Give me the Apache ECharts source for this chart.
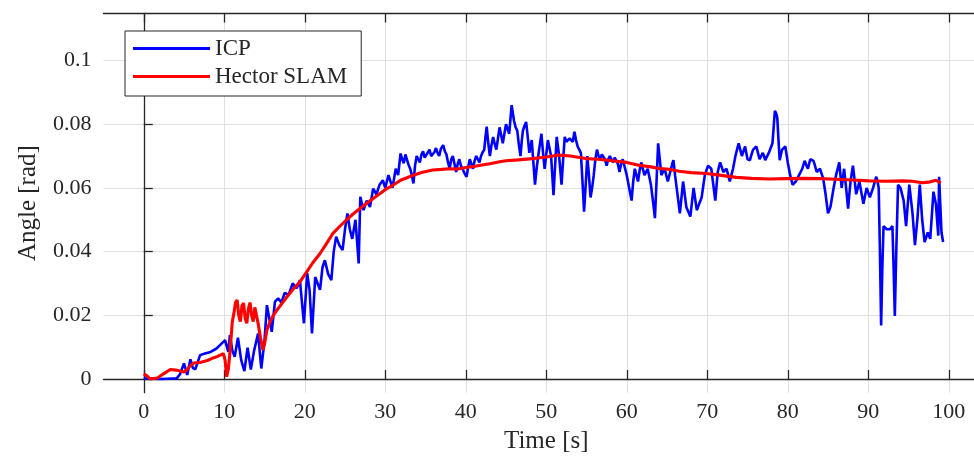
<!DOCTYPE html>
<html><head><meta charset="utf-8">
<script src="https://cdn.jsdelivr.net/npm/echarts@6/dist/echarts.min.js"></script>
<style>html,body{margin:0;padding:0;background:#fff;overflow:hidden}#c{width:974px;height:459px}</style>
</head><body><div id="c"></div>
<script>
const icpT = [0,1,2,3,4.1,4.5,5.0,5.4,5.8,6.1,6.4,7.0,7.6,8.3,9.0,9.5,10.1,10.5,10.7,11.0,11.3,11.7,12.1,12.5,12.9,13.3,13.7,14.2,14.6,15.0,15.3,15.9,16.3,16.7,17.1,17.5,18.0,18.5,19.0,19.4,19.9,20.3,20.6,20.9,21.3,21.6,21.9,22.2,22.5,22.9,23.3,23.6,23.9,24.3,24.7,25.0,25.3,25.6,25.9,26.3,26.7,26.9,27.3,27.7,28.1,28.5,28.9,29.3,29.7,30.0,30.4,30.9,31.3,31.6,
31.9,32.1,32.3,32.5,32.7,32.9,33.1,33.3,33.5,33.7,33.9,34.1,34.3,34.5,34.7,34.9,35.1,35.3,35.5,35.7,35.9,36.1,36.3,36.5,36.7,36.9,37.2,37.4,37.6,37.8,38.0,38.2,38.4,38.6,38.8,39.0,39.2,39.4,39.6,39.8,40.1,40.3,40.5,40.7,40.9,41.1,41.3,41.5,41.7,41.9,42.1,42.3,42.45,42.6,42.8,43.0,43.2,43.4,43.6,43.8,44.0,44.2,44.4,44.6,44.8,45.0,45.2,45.4,45.55,45.7,45.85,46.0,46.2,46.4,46.6,46.8,46.95,47.1,47.3,47.5,47.7,47.9,48.05,48.2,48.4,48.6,48.8,49.0,49.2,49.4,49.6,49.8,50.0,50.2,50.4,50.6,50.75,50.9,51.1,51.3,51.45,51.6,51.75,51.9,52.1,52.3,52.5,52.7,52.9,53.1,53.3,53.5,53.7,53.9,54.1,54.3,54.5,54.7,54.9,55.1,55.3,55.5,55.7,55.9,56.1,56.3,56.5,56.7,56.9,57.1,57.3,57.5,57.7,57.9,58.1,58.3,58.5,58.7,58.9,59.1,59.3,59.5,59.75,
60.0,60.15,60.3,60.45,60.6,60.8,61.0,61.2,61.4,61.6,61.8,62.0,62.2,62.4,62.6,62.8,63.0,63.25,63.5,63.7,63.9,64.1,64.3,64.5,64.7,64.9,65.1,65.3,65.5,65.65,65.8,66.0,66.2,66.4,66.6,66.8,67.0,67.2,67.4,67.65,67.9,68.1,68.3,68.5,68.7,69.0,69.3,69.5,69.7,69.9,70.1,70.3,70.5,70.75,71.0,71.15,71.3,71.45,71.6,71.8,72.0,72.2,72.4,72.6,72.8,73.0,73.2,73.35,73.5,73.7,73.9,74.1,74.3,74.5,74.7,74.85,75.0,75.15,75.3,75.5,75.7,75.9,76.1,76.3,76.5,76.7,76.9,77.05,77.2,77.35,77.5,77.65,77.8,77.95,78.1,78.25,78.4,78.55,78.7,78.85,79.0,79.15,79.3,79.5,79.7,79.85,80.0,80.15,80.3,80.45,80.6,80.8,81.0,81.2,81.4,81.6,81.8,81.95,82.1,82.3,82.5,82.65,82.8,83.0,83.2,83.4,83.6,83.8,84.0,84.2,84.4,84.55,84.7,84.85,85.0,85.15,85.3,85.5,85.7,85.85,86.0,86.2,86.4,86.55,86.7,86.85,87.0,87.25,87.5,87.65,87.8,87.95,88.1,88.3,88.5,88.7,88.9,89.15,89.4,89.6,89.8,90.0,90.2,90.4,90.6,90.8,91.0,91.15,91.3,91.45,91.6,91.75,91.9,92.3,92.7,93.0,93.15,93.3,93.5,93.7,94.0,94.4,94.7,95.1,95.5,95.8,96.1,96.4,96.7,97.0,97.4,97.7,98.1,98.4,98.7,98.8,99.1,99.3];
const icpV = [0.0002,0.0001,0.0000,0.0001,0.0002,0.0015,0.0049,0.0013,0.0062,0.0035,0.0030,0.0075,0.0080,0.0085,0.0095,0.0107,0.0122,0.0085,0.0138,0.0090,0.0070,0.0130,0.0060,0.0025,0.0098,0.0030,0.0088,0.0143,0.0033,0.0120,0.0232,0.0148,0.0243,0.0253,0.0240,0.0270,0.0265,0.0300,0.0285,0.0310,0.0175,0.0332,0.0280,0.0143,0.0320,0.0300,0.0280,0.0350,0.0373,0.0330,0.0310,0.0400,0.0447,0.0420,0.0405,0.0470,0.0520,0.0470,0.0440,0.0500,0.0363,0.0572,0.0530,0.0560,0.0540,0.0598,0.0580,0.0610,0.0624,0.0600,0.0640,0.0600,0.0660,0.0640,
0.0708,0.0690,0.0677,0.0705,0.0700,0.0672,0.0660,0.0640,0.0614,0.0670,0.0700,0.0690,0.0680,0.0705,0.0715,0.0695,0.0690,0.0712,0.0720,0.0700,0.0695,0.0712,0.0725,0.0710,0.0700,0.0722,0.0734,0.0715,0.0705,0.0680,0.0660,0.0690,0.0700,0.0675,0.0650,0.0675,0.0690,0.0670,0.0660,0.0648,0.0635,0.0665,0.0690,0.0675,0.0660,0.0685,0.0700,0.0690,0.0680,0.0700,0.0712,0.0720,0.0760,0.0792,0.0740,0.0700,0.0735,0.0760,0.0738,0.0720,0.0755,0.0790,0.0765,0.0740,0.0770,0.0800,0.0785,0.0770,0.0815,0.0860,0.0835,0.0810,0.0790,0.0780,0.0735,0.0700,0.0745,0.0780,0.0795,0.0807,0.0760,0.0710,0.0730,0.0750,0.0680,0.0610,0.0660,0.0700,0.0735,0.0770,0.0710,0.0660,0.0705,0.0750,0.0725,0.0700,0.0640,0.0577,0.0670,0.0760,0.0730,0.0700,0.0655,0.0610,0.0690,0.0760,0.0745,0.0740,0.0755,0.0760,0.0745,0.0776,0.0750,0.0730,0.0720,0.0710,0.0620,0.0525,0.0610,0.0700,0.0640,0.0570,0.0600,0.0640,0.0690,0.0720,0.0700,0.0690,0.0705,0.0710,0.0690,0.0670,0.0690,0.0700,0.0690,0.0680,0.0695,0.0700,0.0675,0.0650,0.0675,0.0690,0.0665,
0.0640,0.0620,0.0600,0.0580,0.0560,0.0620,0.0660,0.0640,0.0620,0.0655,0.0680,0.0660,0.0640,0.0650,0.0660,0.0635,0.0610,0.0560,0.0505,0.0620,0.0740,0.0690,0.0640,0.0650,0.0660,0.0640,0.0620,0.0640,0.0660,0.0675,0.0687,0.0640,0.0600,0.0560,0.0520,0.0570,0.0620,0.0580,0.0540,0.0525,0.0510,0.0555,0.0600,0.0565,0.0530,0.0550,0.0570,0.0605,0.0640,0.0655,0.0670,0.0665,0.0660,0.0610,0.0560,0.0605,0.0650,0.0665,0.0680,0.0665,0.0650,0.0655,0.0660,0.0640,0.0620,0.0640,0.0660,0.0680,0.0700,0.0720,0.0740,0.0720,0.0700,0.0715,0.0730,0.0710,0.0690,0.0690,0.0687,0.0705,0.0720,0.0725,0.0730,0.0710,0.0690,0.0700,0.0710,0.0700,0.0687,0.0695,0.0700,0.0710,0.0720,0.0730,0.0740,0.0790,0.0842,0.0835,0.0820,0.0750,0.0687,0.0705,0.0720,0.0725,0.0730,0.0705,0.0680,0.0660,0.0640,0.0625,0.0610,0.0615,0.0620,0.0630,0.0640,0.0650,0.0660,0.0672,0.0685,0.0672,0.0660,0.0675,0.0690,0.0688,0.0685,0.0668,0.0650,0.0655,0.0660,0.0645,0.0630,0.0605,0.0580,0.0550,0.0520,0.0530,0.0540,0.0570,0.0600,0.0620,0.0640,0.0660,0.0680,0.0640,0.0600,0.0630,0.0660,0.0600,0.0535,0.0580,0.0620,0.0645,0.0670,0.0625,0.0580,0.0600,0.0620,0.0585,0.0550,0.0575,0.0600,0.0585,0.0570,0.0585,0.0600,0.0618,0.0635,0.0620,0.0600,0.0400,0.0168,0.0350,0.0480,0.0470,0.0470,0.0480,0.0350,0.0198,0.0420,0.0610,0.0600,0.0560,0.0480,0.0610,0.0520,0.0420,0.0500,0.0610,0.0500,0.0430,0.0460,0.0440,0.0588,0.0550,0.0450,0.0635,0.0460,0.0430];
const hecT = [0,0.4,0.8,1.7,2.5,3.3,4.0,4.5,5.0,5.4,5.8,6.2,7.0,7.9,8.5,9.1,9.9,10.1,10.3,10.5,10.7,11.0,11.2,11.4,11.6,11.8,12.0,12.2,12.4,12.6,12.8,13.0,13.2,13.4,13.6,13.8,14.0,14.2,14.5,14.8,15.0,15.3,15.7,16.1,16.5,16.9,17.7,18.5,19.4,20.2,21.0,21.9,22.7,23.5,24.3,25.2,26.0,26.9,27.7,28.5,29.4,30.2,31.0,31.9,32.7,33.5,34.5,35.9,37.0,38.0,39.0,40.0,41.0,42.0,43.0,44.2,45.0,46.5,48.3,50.0,51.6,53.0,54.9,56.5,58.2,60.0,61.5,63.0,64.0,65.4,66.5,68.0,69.9,71.5,73.6,75.5,77.7,79.8,81.9,84.0,86.0,88.0,90.1,92.0,94.3,95.5,96.7,97.5,98.4,99.0];
const hecV = [0.0016,0.0010,0.0000,0.0003,0.0017,0.0030,0.0028,0.0025,0.0022,0.0030,0.0042,0.0050,0.0052,0.0058,0.0065,0.0070,0.0080,0.0060,0.0007,0.0030,0.0080,0.0180,0.0206,0.0240,0.0248,0.0200,0.0180,0.0230,0.0238,0.0190,0.0175,0.0220,0.0240,0.0200,0.0180,0.0225,0.0228,0.0175,0.0130,0.0091,0.0110,0.0154,0.0180,0.0200,0.0215,0.0228,0.0255,0.0280,0.0305,0.0335,0.0365,0.0394,0.0425,0.0457,0.0478,0.0500,0.0518,0.0536,0.0552,0.0567,0.0583,0.0598,0.0609,0.0624,0.0632,0.0640,0.0648,0.0656,0.0658,0.0660,0.0659,0.0664,0.0667,0.0672,0.0676,0.0682,0.0685,0.0688,0.0692,0.0697,0.0703,0.0700,0.0692,0.0690,0.0685,0.0680,0.0671,0.0666,0.0661,0.0658,0.0652,0.0648,0.0645,0.0640,0.0633,0.0630,0.0628,0.0629,0.0630,0.0629,0.0627,0.0625,0.0622,0.0621,0.0622,0.0621,0.0616,0.0618,0.0624,0.0616];
const xTicks = [0,10,20,30,40,50,60,70,80,90,100];
const yTicks = [0,0.02,0.04,0.06,0.08,0.1];
const seriesNames = ['ICP','Hector SLAM'];
const xName = 'Time [s]';
const yName = 'Angle [rad]';

const FONT = "'Liberation Serif', 'DejaVu Serif', serif";
const TXT = '#262626';
const chart = echarts.init(document.getElementById('c'), null, {renderer:'canvas', width: 974, height: 459});
const zip = (t, v) => t.map((x, i) => [x, v[i]]);
chart.setOption({
  animation: false,
  backgroundColor: '#fff',
  grid: {left: 103.5, top: 13.5, width: 885.5, height: 379.2, containLabel: false, outerBoundsMode: 'none'},
  legend: {
    orient: 'vertical', left: 125, top: 31,
    icon: 'rect', itemWidth: 77, itemHeight: 3, itemGap: 5,
    padding: [6, 14, 8, 8],
    borderColor: '#262626', borderWidth: 1, backgroundColor: '#fff',
    textStyle: {fontFamily: FONT, fontSize: 23, color: TXT, lineHeight: 22},
    data: seriesNames
  },
  xAxis: [{
    type: 'value', min: -5, max: 105, position: 'bottom',
    name: xName, nameLocation: 'middle', nameGap: 33,
    nameTextStyle: {fontFamily: FONT, fontSize: 25, color: TXT},
    axisLine: {show: true, lineStyle: {color: TXT, width: 1.3}},
    axisTick: {show: true, inside: true, length: 9, customValues: xTicks, lineStyle: {color: TXT, width: 1.3}},
    axisLabel: {customValues: xTicks, fontFamily: FONT, fontSize: 22, color: TXT, margin: 9},
    splitLine: {show: true, lineStyle: {color: '#dfdfdf', width: 1}}
  }, {
    type: 'value', min: -5, max: 105, position: 'top',
    axisLine: {show: true, lineStyle: {color: TXT, width: 1.3}},
    axisTick: {show: true, inside: true, length: 9, customValues: xTicks, lineStyle: {color: TXT, width: 1.3}},
    axisLabel: {show: false},
    splitLine: {show: false}
  }],
  yAxis: [{
    type: 'value', min: -0.0043, max: 0.11475, position: 'left',
    name: yName, nameLocation: 'middle', nameGap: 63, nameRotate: 90,
    nameTextStyle: {fontFamily: FONT, fontSize: 25, color: TXT},
    axisLine: {show: true, lineStyle: {color: TXT, width: 1.3}},
    axisTick: {show: true, inside: true, length: 9, customValues: yTicks, lineStyle: {color: TXT, width: 1.3}},
    axisLabel: {customValues: yTicks, fontFamily: FONT, fontSize: 22, color: TXT, margin: 12,
      formatter: v => String(Math.round(v * 100) / 100)},
    splitLine: {show: true, lineStyle: {color: '#dfdfdf', width: 1}}
  }],
  series: [{
    name: seriesNames[0], type: 'line', data: zip(icpT, icpV),
    showSymbol: false, symbol: 'none', color: '#0000ff',
    lineStyle: {color: '#0000ff', width: 2.6}, z: 2
  }, {
    name: seriesNames[1], type: 'line', data: zip(hecT, hecV),
    showSymbol: false, symbol: 'none', color: '#ff0000',
    lineStyle: {color: '#ff0000', width: 3.1}, z: 3
  }]
});
</script>
</body></html>
